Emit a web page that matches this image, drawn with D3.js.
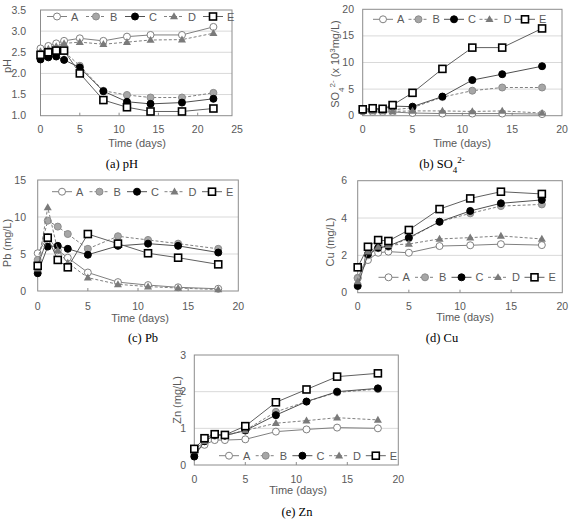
<!DOCTYPE html>
<html lang="en">
<head>
   <meta charset="UTF-8">
   <title>Leaching - pH, SO4, Pb, Cu, Zn</title>
   <script src="https://d3js.org/d3.v7.min.js"></script>
   <style>
      body { margin: 0; background: #fff; }
      .tick-label { fill: #595959; font-family: 'Liberation Sans', Arial, sans-serif; font-size: 10.5px; }
      .axis-title { fill: #595959; font-family: 'Liberation Sans', Arial, sans-serif; font-size: 11px; }
      .legend-label { fill: #595959; font-family: 'Liberation Sans', Arial, sans-serif; font-size: 11px; }
      .caption { fill: #000; font-family: 'Liberation Serif', 'Times New Roman', serif; font-size: 12.5px; }
   </style>
</head>
<body>
   <script>
      // sampling days
      const daysPH = [0, 1, 2, 3, 5, 8, 11, 14, 18, 22];
      const days = [0, 1, 2, 3, 5, 8, 11, 14, 18];
      const seriesNames = ['A', 'B', 'C', 'D', 'E'];

      // (a) pH
      const phA = [2.59, 2.65, 2.71, 2.77, 2.83, 2.77, 2.87, 2.91, 2.91, 3.10];
      const phB = [2.42, 2.46, 2.50, 2.52, 2.18, 1.59, 1.49, 1.43, 1.43, 1.54];
      const phC = [2.33, 2.38, 2.40, 2.32, 2.14, 1.58, 1.33, 1.28, 1.31, 1.40];
      const phD = [2.52, 2.58, 2.64, 2.71, 2.74, 2.69, 2.74, 2.79, 2.80, 2.95];
      const phE = [2.44, 2.50, 2.54, 2.54, 2.00, 1.37, 1.20, 1.10, 1.10, 1.17];

      // (b) SO4 (x10^3 mg/L)
      const so4A = [0.8, 0.7, 0.7, 0.7, 0.5, 0.4, 0.4, 0.4, 0.3];
      const so4B = [1.0, 1.0, 1.0, 1.1, 1.5, 3.5, 4.7, 5.3, 5.3];
      const so4C = [1.0, 1.2, 1.2, 1.8, 1.7, 3.6, 6.7, 7.8, 9.3];
      const so4D = [0.9, 0.9, 0.9, 0.8, 0.9, 0.9, 0.8, 0.9, 0.5];
      const so4E = [1.2, 1.4, 1.3, 2.0, 4.3, 8.8, 12.8, 12.8, 16.4];

      // (c) Pb (mg/L)
      const pbA = [5.1, 7.3, 5.5, 4.5, 2.5, 1.2, 0.8, 0.5, 0.3];
      const pbB = [4.2, 9.5, 8.7, 7.7, 5.7, 7.4, 6.9, 6.4, 5.7];
      const pbC = [2.4, 6.0, 6.1, 5.7, 4.9, 6.1, 6.4, 6.1, 5.2];
      const pbD = [3.0, 11.3, 5.5, 3.8, 1.8, 0.9, 0.6, 0.4, 0.2];
      const pbE = [3.4, 7.2, 4.2, 3.2, 7.7, 6.4, 5.1, 4.5, 3.6];

      // (d) Cu (mg/L)
      const cuA = [0.80, 1.75, 2.14, 2.20, 2.14, 2.50, 2.54, 2.60, 2.55];
      const cuB = [0.77, 2.00, 2.38, 2.46, 2.91, 3.80, 4.25, 4.64, 4.73];
      const cuC = [0.36, 2.06, 2.41, 2.50, 2.95, 3.80, 4.38, 4.79, 4.97];
      const cuD = [0.60, 2.20, 2.45, 2.55, 2.61, 2.88, 2.95, 3.04, 2.88];
      const cuE = [1.36, 2.46, 2.82, 2.77, 3.36, 4.48, 5.05, 5.41, 5.29];

      // (e) Zn (mg/L)
      const znA = [0.35, 0.55, 0.68, 0.68, 0.70, 0.91, 0.97, 1.02, 1.00];
      const znB = [0.30, 0.65, 0.80, 0.80, 0.95, 1.45, 1.73, 1.98, 2.07];
      const znC = [0.23, 0.65, 0.82, 0.80, 0.94, 1.36, 1.73, 2.00, 2.09];
      const znD = [0.40, 0.65, 0.82, 0.82, 0.94, 1.14, 1.21, 1.29, 1.23];
      const znE = [0.44, 0.73, 0.84, 0.82, 1.06, 1.71, 2.06, 2.41, 2.50];

      // marker / line look of each series
      const styles = {
         A: { shape: 'circle', fill: '#fff', stroke: '#808080', sw: 1, line: '#808080', dash: null },
         B: { shape: 'circle', fill: '#a6a6a6', stroke: '#8c8c8c', sw: 1, line: '#808080', dash: '3,2' },
         C: { shape: 'circle', fill: '#000', stroke: '#000', sw: 1, line: '#505050', dash: null },
         D: { shape: 'triangle', fill: '#7a7a7a', stroke: '#7a7a7a', sw: 1, line: '#808080', dash: '3,2' },
         E: { shape: 'square', fill: '#fff', stroke: '#000', sw: 1.6, line: '#606060', dash: null }
      };

      const width = 571;
      const height = 520;

      const svg = d3.select('body').append('svg')
         .attr('width', width)
         .attr('height', height);

      function drawMarker(g, shape, st, cx, cy) {
         if (shape === 'circle') {
            g.append('circle').attr('cx', cx).attr('cy', cy).attr('r', 3.5)
               .attr('fill', st.fill).attr('stroke', st.stroke).attr('stroke-width', st.sw);
         } else if (shape === 'triangle') {
            g.append('path')
               .attr('d', d3.symbol().type(d3.symbolTriangle).size(28)())
               .attr('transform', `translate(${cx}, ${cy + 0.5})`)
               .attr('fill', st.fill);
         } else {
            g.append('rect').attr('x', cx - 3.5).attr('y', cy - 3.5).attr('width', 7).attr('height', 7)
               .attr('fill', st.fill).attr('stroke', st.stroke).attr('stroke-width', st.sw);
         }
      }

      function panel(p) {
         const x = d3.scaleLinear().domain([0, p.xMax]).range([p.left, p.right]);
         const y = d3.scaleLinear().domain(p.yDomain).range([p.bottom, p.top]);
         const frameRight = p.frameRight || p.right;
         const g = svg.append('g');

         // grid lines
         const yTicks = d3.range(p.yDomain[0], p.yDomain[1] + p.yStep / 2, p.yStep);
         g.selectAll('.grid').data(yTicks.slice(1, -1)).enter().append('line')
            .attr('x1', p.left).attr('x2', frameRight)
            .attr('y1', d => y(d)).attr('y2', d => y(d))
            .attr('stroke', '#d9d9d9').attr('stroke-width', 1);

         // frame
         g.append('rect')
            .attr('x', p.left).attr('y', p.top)
            .attr('width', frameRight - p.left).attr('height', p.bottom - p.top)
            .attr('fill', 'none').attr('stroke', '#8c8c8c').attr('stroke-width', 1);

         // x ticks
         const xTicks = d3.range(0, p.xMax + 1, 5);
         g.selectAll('.xt').data(xTicks.filter(d => x(d) < frameRight - 1 && d > 0)).enter().append('line')
            .attr('x1', d => x(d)).attr('x2', d => x(d))
            .attr('y1', p.bottom).attr('y2', p.bottom - 3)
            .attr('stroke', '#8c8c8c');
         g.selectAll('.xl').data(xTicks).enter().append('text')
            .attr('class', 'tick-label')
            .attr('x', d => x(d)).attr('y', p.xLabelY)
            .attr('text-anchor', 'middle')
            .text(d => d);

         // y tick labels
         g.selectAll('.yl').data(yTicks).enter().append('text')
            .attr('class', 'tick-label')
            .attr('x', p.yLabelX).attr('y', d => y(d) + 3.5)
            .attr('text-anchor', 'end')
            .text(d => d3.format(p.yFormat)(d));

         // axis titles
         g.append('text').attr('class', 'axis-title')
            .attr('x', p.xTitle[0]).attr('y', p.xTitle[1])
            .attr('text-anchor', 'middle')
            .text('Time (days)');

         const yt = g.append('text').attr('class', 'axis-title')
            .attr('transform', `translate(${p.yTitle[0]}, ${p.yTitle[1]}) rotate(-90)`)
            .attr('text-anchor', 'middle');
         p.yTitleText(yt);

         // caption
         const cap = g.append('text').attr('class', 'caption')
            .attr('x', p.caption[0]).attr('y', p.caption[1])
            .attr('text-anchor', 'middle');
         p.captionText(cap);

         // series
         const line = d3.line().x(d => x(d[0])).y(d => y(d[1]));
         seriesNames.forEach((name, i) => {
            const st = styles[name];
            const pts = p.xs.map((d, j) => [d, p.series[i][j]]);
            g.append('path')
               .attr('d', line(pts))
               .attr('fill', 'none')
               .attr('stroke', st.line)
               .attr('stroke-width', 1)
               .attr('stroke-dasharray', st.dash);
            pts.forEach(d => drawMarker(g, st.shape, st, x(d[0]), y(d[1])));
         });

         // legend
         seriesNames.forEach((name, i) => {
            const st = styles[name];
            const lx = p.legend[0] + i * p.legend[2];
            const ly = p.legend[1];
            g.append('line')
               .attr('x1', lx).attr('x2', lx + 20)
               .attr('y1', ly).attr('y2', ly)
               .attr('stroke', st.line).attr('stroke-width', 1)
               .attr('stroke-dasharray', st.dash);
            drawMarker(g, st.shape, st, lx + 10, ly);
            g.append('text').attr('class', 'legend-label')
               .attr('x', lx + 24).attr('y', ly + 4)
               .text(name);
         });
      }

      panel({
         left: 40.5, right: 237, frameRight: 232, top: 10, bottom: 115.7,
         xMax: 25, yDomain: [1, 3.5], yStep: 0.5, yFormat: '.1f',
         xs: daysPH, series: [phA, phB, phC, phD, phE],
         xLabelY: 133, yLabelX: 26,
         xTitle: [137, 147], yTitle: [11, 66],
         yTitleText: t => t.text('pH'),
         caption: [122, 168],
         captionText: t => t.text('(a) pH'),
         legend: [47, 16.5, 39]
      });

      panel({
         left: 362.7, right: 562, top: 9.3, bottom: 115.7,
         xMax: 20, yDomain: [0, 20], yStep: 5, yFormat: 'd',
         xs: days, series: [so4A, so4B, so4C, so4D, so4E],
         xLabelY: 133, yLabelX: 354,
         xTitle: [462, 147], yTitle: [339, 64],
         yTitleText: t => {
            t.append('tspan').text('SO');
            t.append('tspan').attr('baseline-shift', 'sub').attr('font-size', '8px').text('4');
            t.append('tspan').attr('baseline-shift', 'super').attr('font-size', '8px').text('2-');
            t.append('tspan').text(' (x 10');
            t.append('tspan').attr('baseline-shift', 'super').attr('font-size', '8px').text('3');
            t.append('tspan').text('mg/L)');
         },
         caption: [442, 168],
         captionText: t => {
            t.append('tspan').text('(b) SO');
            t.append('tspan').attr('baseline-shift', 'sub').attr('font-size', '9px').text('4');
            t.append('tspan').attr('baseline-shift', 'super').attr('font-size', '9px').text('2-');
         },
         legend: [373, 19.3, 35.5]
      });

      panel({
         left: 37.7, right: 238.3, top: 180, bottom: 291,
         xMax: 20, yDomain: [0, 15], yStep: 5, yFormat: 'd',
         xs: days, series: [pbA, pbB, pbC, pbD, pbE],
         xLabelY: 310, yLabelX: 26,
         xTitle: [140, 322], yTitle: [11, 243],
         yTitleText: t => t.text('Pb (mg/L)'),
         caption: [143, 342],
         captionText: t => t.text('(c) Pb'),
         legend: [52, 191.7, 37.5]
      });

      panel({
         left: 357.7, right: 562.3, top: 180.7, bottom: 292.7,
         xMax: 20, yDomain: [0, 6], yStep: 2, yFormat: 'd',
         xs: days, series: [cuA, cuB, cuC, cuD, cuE],
         xLabelY: 310, yLabelX: 347,
         xTitle: [465, 321], yTitle: [334, 242],
         yTitleText: t => t.text('Cu (mg/L)'),
         caption: [442, 342],
         captionText: t => t.text('(d) Cu'),
         legend: [378.5, 277.3, 36.5]
      });

      panel({
         left: 194.3, right: 398.3, top: 355, bottom: 465,
         xMax: 20, yDomain: [0, 3], yStep: 1, yFormat: 'd',
         xs: days, series: [znA, znB, znC, znD, znE],
         xLabelY: 483, yLabelX: 186,
         xTitle: [298, 494], yTitle: [181, 400],
         yTitleText: t => t.text('Zn (mg/L)'),
         caption: [297, 516],
         captionText: t => t.text('(e) Zn'),
         legend: [219, 455.7, 36.7]
      });
   </script>
</body>
</html>
